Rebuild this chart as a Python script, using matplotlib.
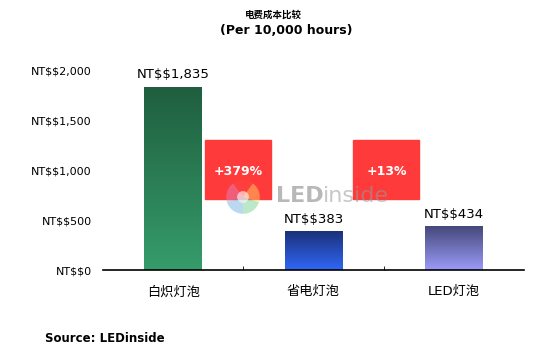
import numpy as np
import matplotlib.pyplot as plt
from matplotlib.colors import LinearSegmentedColormap
from matplotlib.patches import Rectangle

plt.rcParams['font.family'] = ['DejaVu Sans', 'Noto Sans CJK SC']

categories = ["白炽灯泡", "省电灯泡", "LED灯泡"]
costs = [1835, 383, 434]
yticks = [0, 500, 1000, 1500, 2000]
changes = ["+379%", "+13%"]
top_colors = ["#1f5e3f", "#1b3278", "#45487a"]
bottom_colors = ["#369c6b", "#3066f8", "#9b9bf8"]
box_left = [0.23, 1.285]


def money(v):
    return "NT\\$\\${:,}".format(v)


W, H = 544, 354
fig = plt.figure(figsize=(W / 100, H / 100), dpi=100)
ax = fig.add_axes([103 / W, (H - 270) / H, 421 / W, 199 / H])

x = np.arange(len(categories))
bars = ax.bar(x, costs, width=0.41, color="none", zorder=2)

grad = np.linspace(0, 1, 256).reshape(-1, 1)
for b, c0, c1, v in zip(bars, top_colors, bottom_colors, costs):
    cmap = LinearSegmentedColormap.from_list("g", [c0, c1])
    x0, w, h = b.get_x(), b.get_width(), b.get_height()
    ax.imshow(grad, cmap=cmap, aspect="auto", origin="upper",
              extent=(x0, x0 + w, 0, h), zorder=2)
    ax.text(x0 + w / 2, h + 60, money(v), ha="center", va="bottom",
            fontsize=9.5)

# percentage boxes between neighbouring bars
for bl, lab in zip(box_left, changes):
    ax.add_patch(Rectangle((bl, 713), 0.47, 593, color="#ff3a3a",
                           zorder=3, clip_on=False))
    ax.text(bl + 0.235, 985, lab, ha="center", va="center",
            color="white", fontsize=9, fontweight="bold", zorder=4)

ax.set_xlim(-0.5, 2.5)
ax.set_ylim(0, 2000)
ax.set_yticks(yticks)
ax.set_yticklabels([money(v) for v in yticks], fontsize=8)
ax.set_xticks(x)
ax.set_xticklabels(categories, fontsize=9.5)
ax.set_xticks([0.5, 1.5], minor=True)
ax.tick_params(axis="x", which="major", length=0, pad=11)
ax.tick_params(axis="x", which="minor", length=3, direction="in")
ax.tick_params(axis="y", length=0, pad=8)
for s in ["top", "right", "left"]:
    ax.spines[s].set_visible(False)
ax.spines["bottom"].set_linewidth(1.2)

# watermark
led = ax.text(0.41, 0.37, "LED", transform=ax.transAxes, fontsize=16,
              color="#8a8a8a", alpha=0.6, va="center", ha="left", zorder=5,
              fontweight="bold")
ax.annotate("inside", xy=(1, 0), xycoords=led, fontsize=16, color="#999999",
            alpha=0.55, va="bottom", ha="left", zorder=5)
lax = fig.add_axes([222 / W, (H - 218) / H, 42 / W, 42 / H])
lax.pie([1, 1, 1, 1, 1], colors=["#ff4444", "#dd88cc", "#66aadd", "#66cc88", "#ffe066"],
        wedgeprops=dict(alpha=0.45, linewidth=0), startangle=54)
lax.pie([1], colors=["white"], radius=0.35, wedgeprops=dict(alpha=0.6, linewidth=0))
lax.set_zorder(5)
lax.axis("off")

fig.text(273 / W, 1 - 15 / H, "电费成本比较", ha="center", va="center",
         fontsize=6.8, fontweight="bold")
fig.text(286 / W, 1 - 30 / H, "(Per 10,000 hours)", ha="center", va="center",
         fontsize=9, fontweight="bold")
fig.text(45 / W, 1 - 338 / H, "Source: LEDinside", ha="left", va="center",
         fontsize=8.5, fontweight="bold")

fig.savefig("out.png", dpi=100)
